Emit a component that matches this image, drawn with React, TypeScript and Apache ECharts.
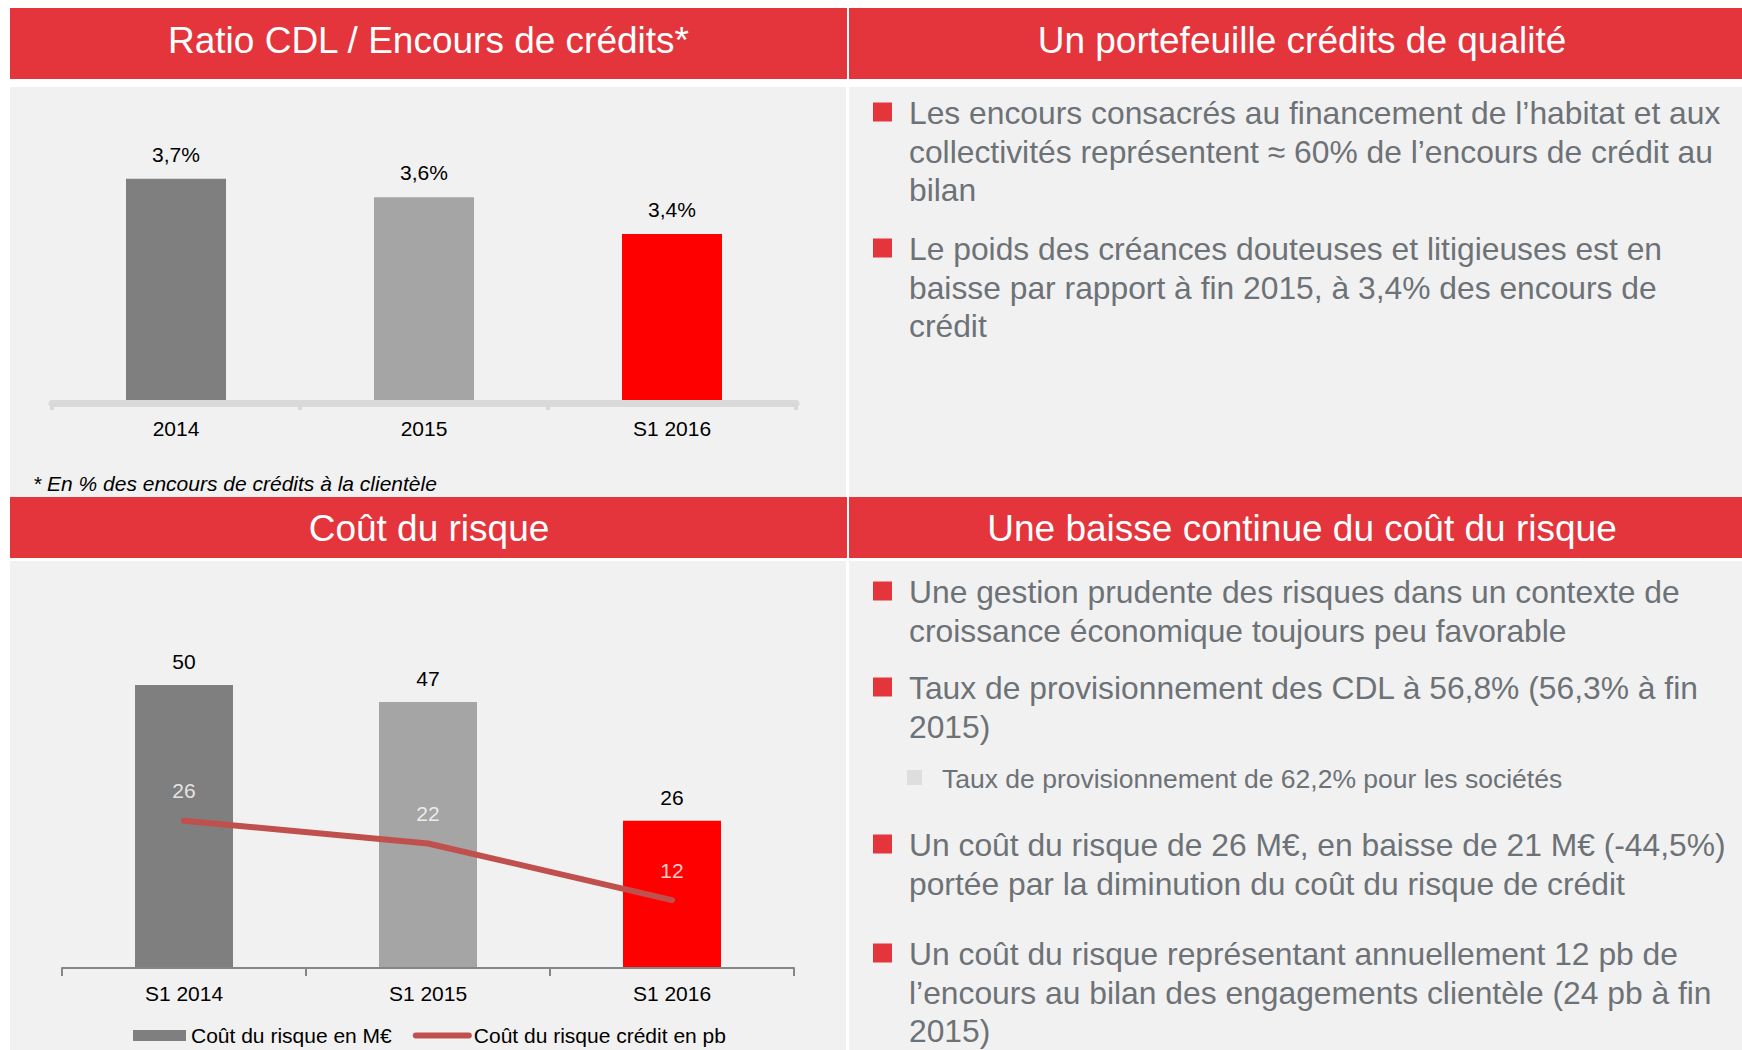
import React, { useEffect, useRef } from "react";
import * as echarts from "echarts";

// ---------- DATA ----------
const ratioCategories = ["2014", "2015", "S1 2016"];
const ratioValues = [3.7, 3.6, 3.4];
const costCategories = ["S1 2014", "S1 2015", "S1 2016"];
const costMEur = [50, 47, 26];
const costPb = [26, 22, 12];
const barColors = ["#7F7F7F", "#A5A5A5", "#FF0000"];
const seriesNames = ["Coût du risque en M€", "Coût du risque crédit en pb"];
const panelTitles = [
  "Ratio CDL / Encours de crédits*",
  "Un portefeuille crédits de qualité",
  "Coût du risque",
  "Une baisse continue du coût du risque",
];
const footnote = "* En % des encours de crédits à la clientèle";
const qualityBullets = [
  [
    "Les encours consacrés au financement de l’habitat et aux",
    "collectivités représentent ≈ 60% de l’encours de crédit au",
    "bilan",
  ],
  [
    "Le poids des créances douteuses et litigieuses est en",
    "baisse par rapport à fin 2015, à 3,4% des encours de",
    "crédit",
  ],
];
const riskBullets = [
  ["Une gestion prudente des risques dans un contexte de", "croissance économique toujours peu favorable"],
  ["Taux de provisionnement des CDL à 56,8% (56,3% à fin", "2015)"],
  ["Un coût du risque de 26 M€, en baisse de 21 M€ (-44,5%)", "portée par la diminution du coût du risque de crédit"],
  [
    "Un coût du risque représentant annuellement 12 pb de",
    "l’encours au bilan des engagements clientèle (24 pb à fin",
    "2015)",
  ],
];
const riskSubBullet = "Taux de provisionnement de 62,2% pour les sociétés";

// ---------- STYLE / LAYOUT ----------
const FONT = "'Liberation Sans', Arial, Helvetica, sans-serif";
const RED = "#E4343C";
const PANEL = "#F1F1F1";
const TEXT_GREY = "#6D7277";
const LINE_RED = "#C0504D";

const rect = (x: number, y: number, w: number, h: number, fill: string, z = -5) => ({
  type: "rect",
  z,
  silent: true,
  shape: { x, y, width: w, height: h },
  style: { fill },
});

const text = (
  s: string,
  x: number,
  y: number,
  size: number,
  fill: string,
  align = "left",
  italic = false
) => ({
  type: "text",
  z: 5,
  silent: true,
  x,
  y,
  style: {
    text: s,
    fill,
    fontSize: size,
    fontFamily: FONT,
    fontStyle: italic ? "italic" : "normal",
    textAlign: align,
    textVerticalAlign: "middle",
    align,
    verticalAlign: "middle",
  },
});

function buildGraphic() {
  const els: any[] = [];
  // headers
  els.push(rect(10, 8, 837, 71, RED));
  els.push(rect(849, 8, 893, 71, RED));
  els.push(rect(10, 497, 837, 61, RED));
  els.push(rect(849, 497, 893, 61, RED));
  // panels
  els.push(rect(10, 87, 836, 410, PANEL, -6));
  els.push(rect(849, 87, 893, 410, PANEL, -6));
  els.push(rect(10, 561, 836, 489, PANEL, -6));
  els.push(rect(849, 561, 893, 489, PANEL, -6));
  // titles
  els.push(text(panelTitles[0], 428.5, 40, 37, "#FFFFFF", "center"));
  els.push(text(panelTitles[1], 1302, 40, 37, "#FFFFFF", "center"));
  els.push(text(panelTitles[2], 429, 528, 37, "#FFFFFF", "center"));
  els.push(text(panelTitles[3], 1302, 528, 37, "#FFFFFF", "center"));
  // footnote
  els.push(text(footnote, 33, 483, 21, "#000000", "left", true));

  const bullet = (lines: string[], y0: number, lh: number) => {
    els.push(rect(873, y0 - 10.5, 19, 19, RED, 4));
    lines.forEach((l, i) => els.push(text(l, 909, y0 + i * lh, 31.8, TEXT_GREY)));
  };
  // top right
  const topStarts = [113, 249];
  qualityBullets.forEach((b, i) => bullet(b, topStarts[i], 38.6));
  // bottom right
  const botStarts = [592, 688, 845, 954];
  riskBullets.forEach((b, i) => bullet(b, botStarts[i], 38.5));
  els.push(rect(907, 770, 15, 15, "#DEDEDE", 4));
  els.push(text(riskSubBullet, 942, 779, 26.5, TEXT_GREY));
  return els;
}

export default function App() {
  const ref = useRef<HTMLDivElement>(null);

  useEffect(() => {
    if (!ref.current) return;
    const chart = echarts.init(ref.current, null, { renderer: "svg" });
    const option: any = {
      animation: false,
      backgroundColor: "#FFFFFF",
      textStyle: { fontFamily: FONT },
      graphic: { elements: buildGraphic() },
      grid: [
        { left: 52, top: 123.5, width: 744, height: 276.5 },
        { left: 62, top: 628.4, width: 732, height: 339.6 },
      ],
      xAxis: [
        {
          gridIndex: 0,
          type: "category",
          data: ratioCategories,
          offset: 3,
          z: 3,
          axisLine: { lineStyle: { color: "#D9D9D9", width: 7 } },
          axisTick: { show: true, length: 7, lineStyle: { color: "#D9D9D9", width: 4 } },
          axisLabel: { margin: 15, fontSize: 21, color: "#000000", fontFamily: FONT },
        },
        {
          gridIndex: 1,
          type: "category",
          data: costCategories,
          z: 3,
          axisLine: { lineStyle: { color: "#868686", width: 2 } },
          axisTick: { show: true, length: 8, lineStyle: { color: "#868686", width: 2 } },
          axisLabel: { margin: 15, fontSize: 21, color: "#000000", fontFamily: FONT },
        },
      ],
      yAxis: [
        { gridIndex: 0, type: "value", min: 2.5, max: 4.0, show: false },
        { gridIndex: 1, type: "value", min: 0, max: 60, show: false },
      ],
      legend: {
        left: 133,
        top: 1025,
        padding: 0,
        itemWidth: 53,
        itemHeight: 11,
        itemGap: 21,
        textStyle: { fontSize: 21, color: "#000000", fontFamily: FONT },
        data: [
          { name: seriesNames[0], icon: "rect" },
          {
            name: seriesNames[1],
            itemStyle: { color: "rgba(0,0,0,0)", borderColor: "rgba(0,0,0,0)", borderWidth: 0 },
            lineStyle: { color: LINE_RED, width: 6, cap: "round" },
          },
        ],
      },
      series: [
        {
          name: "Ratio CDL",
          type: "bar",
          xAxisIndex: 0,
          yAxisIndex: 0,
          barWidth: 100,
          data: ratioValues.map((v, i) => ({ value: v, itemStyle: { color: barColors[i] } })),
          label: {
            show: true,
            position: "top",
            distance: 14,
            fontSize: 21,
            color: "#000000",
            fontFamily: FONT,
            formatter: (p: any) => String(p.value).replace(".", ",") + "%",
          },
        },
        {
          name: seriesNames[0],
          type: "bar",
          xAxisIndex: 1,
          yAxisIndex: 1,
          barWidth: 98,
          itemStyle: { color: barColors[0] },
          data: costMEur.map((v, i) => ({ value: v, itemStyle: { color: barColors[i] } })),
          label: {
            show: true,
            position: "top",
            distance: 13,
            fontSize: 21,
            color: "#000000",
            fontFamily: FONT,
          },
        },
        {
          name: seriesNames[1],
          type: "line",
          xAxisIndex: 1,
          yAxisIndex: 1,
          z: 4,
          data: costPb,
          symbol: "none",
          itemStyle: { color: LINE_RED },
          lineStyle: { color: LINE_RED, width: 6, cap: "round", join: "round" },
        },
        {
          name: "pbLabels",
          type: "scatter",
          xAxisIndex: 1,
          yAxisIndex: 1,
          z: 5,
          silent: true,
          data: costPb,
          symbolSize: 1,
          itemStyle: { color: "rgba(0,0,0,0)" },
          label: {
            show: true,
            position: "top",
            distance: 19,
            fontSize: 21,
            color: "#FFFFFF",
            fontFamily: FONT,
          },
        },
      ],
    };
    chart.setOption(option);
    return () => chart.dispose();
  }, []);

  return (
    <div
      ref={ref}
      style={{ position: "absolute", left: 0, top: 0, width: 1742, height: 1050 }}
    />
  );
}
